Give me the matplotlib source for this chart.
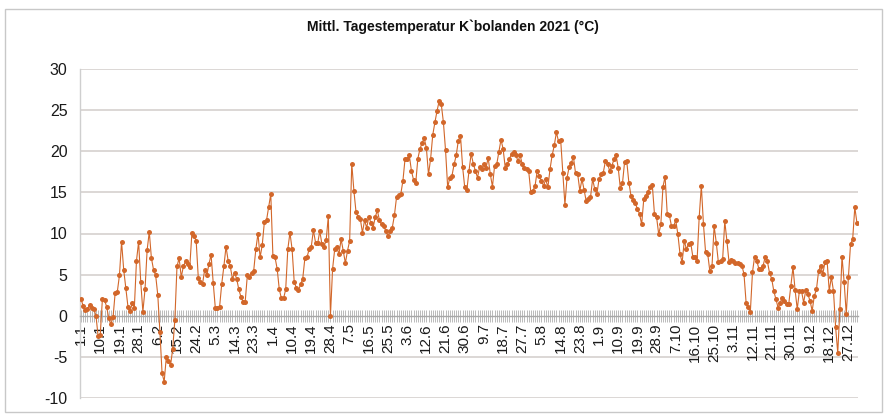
import matplotlib
matplotlib.use("Agg")
import matplotlib.pyplot as plt
from matplotlib import font_manager
from matplotlib.patches import Rectangle
import numpy as np

# ---- data: daily mean temperature (°C) ----
jan = [2.0, 1.2, 0.7, 0.8, 1.3, 1.0, 0.8, 0.0, -2.5, -2.3, 2.0, 1.9, 1.1, -0.3, -1.0, -0.2,
       2.8, 2.9, 4.9, 9.0, 5.6, 3.4, 1.1, 0.6, 1.5, 1.0, 6.7, 9.0, 4.1, 0.5, 3.2]
feb = [8.0, 10.2, 7.0, 5.6, 4.9, 2.5, -2.0, -7.0, -8.0, -5.0, -5.5, -6.0, -4.0, -0.5, 6.0,
       7.0, 4.7, 6.0, 6.6, 6.3, 5.9, 10.1, 9.7, 9.1, 4.6, 4.1, 3.9, 5.6]
mar = [4.9, 6.3, 7.4, 4.0, 0.9, 1.0, 1.1, 3.9, 6.0, 8.4, 6.7, 6.0, 4.5, 5.2, 4.5, 3.2,
       2.3, 1.7, 1.7, 4.9, 4.7, 5.2, 5.5, 8.1, 10.0, 7.1, 8.6, 11.4, 11.6, 13.2, 14.8]
apr = [7.3, 7.1, 5.7, 3.2, 2.1, 2.1, 3.2, 8.1, 10.1, 8.1, 4.1, 3.4, 3.1, 3.8, 4.5, 7.0,
       7.1, 8.1, 8.4, 10.4, 8.9, 8.8, 10.3, 8.7, 8.4, 9.2, 12.1, 0.0, 5.7, 8.1]
may = [8.3, 7.5, 9.3, 7.9, 6.4, 7.9, 9.1, 18.5, 15.2, 12.6, 12.0, 11.8, 10.1, 11.6, 10.7,
       12.0, 11.3, 10.7, 12.0, 12.8, 11.6, 11.1, 10.9, 10.3, 9.7, 10.3, 10.7, 12.2, 14.4,
       14.7, 14.8]
jun = [16.4, 19.1, 19.0, 19.5, 17.6, 16.5, 16.1, 19.1, 20.3, 21.0, 21.6, 20.4, 17.2, 19.1,
       22.0, 23.5, 24.9, 26.1, 25.7, 23.5, 20.1, 15.6, 16.8, 17.0, 18.4, 19.5, 21.3, 21.9,
       18.1, 15.6]
jul = [15.3, 17.6, 19.7, 18.5, 17.6, 16.8, 18.1, 17.8, 18.4, 18.0, 19.2, 17.2, 15.7, 18.2,
       18.4, 19.9, 21.4, 20.3, 18.0, 18.4, 19.1, 19.7, 19.9, 19.5, 18.8, 19.5, 18.4, 18.0,
       17.8, 17.6, 15.0]
aug = [15.2, 15.8, 17.6, 17.0, 16.4, 15.8, 16.6, 15.6, 17.8, 19.5, 20.7, 22.3, 21.2, 21.4,
       17.4, 13.5, 16.8, 18.1, 18.6, 19.3, 17.3, 17.2, 15.2, 16.6, 15.3, 13.9, 14.2, 14.4,
       16.6, 15.4, 14.8]
sep = [16.6, 17.2, 17.4, 18.8, 18.5, 17.6, 18.2, 19.0, 19.5, 18.0, 15.5, 16.1, 18.7, 18.8,
       16.2, 14.6, 14.1, 13.7, 13.0, 12.4, 11.1, 14.2, 14.6, 15.1, 15.7, 15.9, 12.4, 12.0,
       9.9, 11.1]
oct_ = [15.7, 16.9, 12.4, 12.2, 10.9, 10.9, 11.6, 9.9, 7.5, 6.5, 9.1, 8.1, 8.7, 8.9, 7.2,
        7.1, 6.7, 12.0, 15.8, 11.1, 7.7, 7.5, 5.4, 6.0, 10.9, 8.9, 6.5, 6.7, 6.9, 11.5, 9.1]
nov = [6.5, 6.8, 6.6, 6.4, 6.4, 6.3, 6.1, 5.1, 1.6, 1.1, 0.5, 5.3, 7.2, 6.7, 5.7, 5.7, 6.1,
       7.2, 6.6, 5.2, 4.5, 3.0, 2.0, 1.0, 1.6, 2.2, 1.8, 1.4, 1.4, 3.6]
dec = [5.9, 3.1, 0.8, 3.0, 3.0, 1.6, 3.1, 2.6, 1.8, 0.6, 2.4, 3.2, 5.4, 6.1, 5.1, 6.5, 6.7,
       3.0, 4.7, 3.0, -1.4, -4.5, 0.8, 7.2, 4.1, 0.2, 4.7, 8.7, 9.3, 13.2, 11.3]

months = [jan, feb, mar, apr, may, jun, jul, aug, sep, oct_, nov, dec]
month_len = [31, 28, 31, 30, 31, 30, 31, 31, 30, 31, 30, 31]

title = "Mittl. Tagestemperatur K`bolanden 2021 (°C)"
y_ticks = [-10, -5, 0, 5, 10, 15, 20, 25, 30]

temps = np.concatenate([np.array(m, dtype=float) for m in months])
days = np.arange(1, len(temps) + 1)

# category labels "d.m" for every day; every 9th is shown
cat_labels = [f"{d}.{mi + 1}" for mi, n in enumerate(month_len) for d in range(1, n + 1)]
label_step = 9
tick_pos = days[::label_step]
tick_lab = [cat_labels[i - 1] for i in tick_pos]

# ---- fonts ----
def has_font(name):
    try:
        font_manager.findfont(name, fallback_to_default=False)
        return True
    except Exception:
        return False

base_font = "Liberation Sans" if has_font("Liberation Sans") else "DejaVu Sans"
plt.rcParams["font.family"] = [base_font, "DejaVu Sans"]

W, H = 887, 418
fig = plt.figure(figsize=(W / 100, H / 100), dpi=100)
fig.patch.set_facecolor("white")

# outer frame
fig.patches.append(Rectangle((5 / W, 1 - 412 / H), 877 / W, 403 / H,
                             transform=fig.transFigure, fill=False,
                             edgecolor="#c8c8c8", linewidth=1.0))

left, right, top, bottom = 80, 858, 69, 398
ax = fig.add_axes([left / W, 1 - bottom / H, (right - left) / W, (bottom - top) / H])

ax.set_xlim(0.5, len(temps) + 0.5)
ax.set_ylim(-10, 30)

# horizontal grid lines (except zero, which is the category axis)
for yv in y_ticks:
    if yv != 0:
        ax.axhline(yv, color="#d9d4d2", linewidth=1.3, zorder=0)

ax.plot(days, temps, color="#d2672a", linewidth=0.8, marker="o", markersize=3.6,
        markeredgewidth=0, zorder=3)

# spines
for s in ["top", "right"]:
    ax.spines[s].set_visible(False)
ax.spines["left"].set_color("#cfcfcf")
ax.spines["left"].set_linewidth(1.0)
ax.spines["bottom"].set_position(("data", 0))
ax.spines["bottom"].set_color("#a8a8a8")
ax.spines["bottom"].set_linewidth(1.0)

ax.set_yticks(y_ticks)
ax.set_yticklabels([str(v) for v in y_ticks])
ax.tick_params(axis="y", length=0, pad=9, labelsize=11.5, labelcolor="#1a1a1a")

ax.set_xticks(tick_pos)
ax.set_xticklabels(tick_lab, rotation=90, ha="center", va="top")
ax.set_xticks(days, minor=True)
ax.tick_params(axis="x", which="both", direction="inout", length=9, width=0.6,
               color="#b0b0b0", labelsize=11, labelcolor="#1a1a1a", pad=1)

fig.text(453 / W, 1 - 27 / H, title, ha="center", va="center", fontsize=10,
         fontweight="bold", color="#111111")

fig.savefig("out.png", dpi=100, facecolor="white")
